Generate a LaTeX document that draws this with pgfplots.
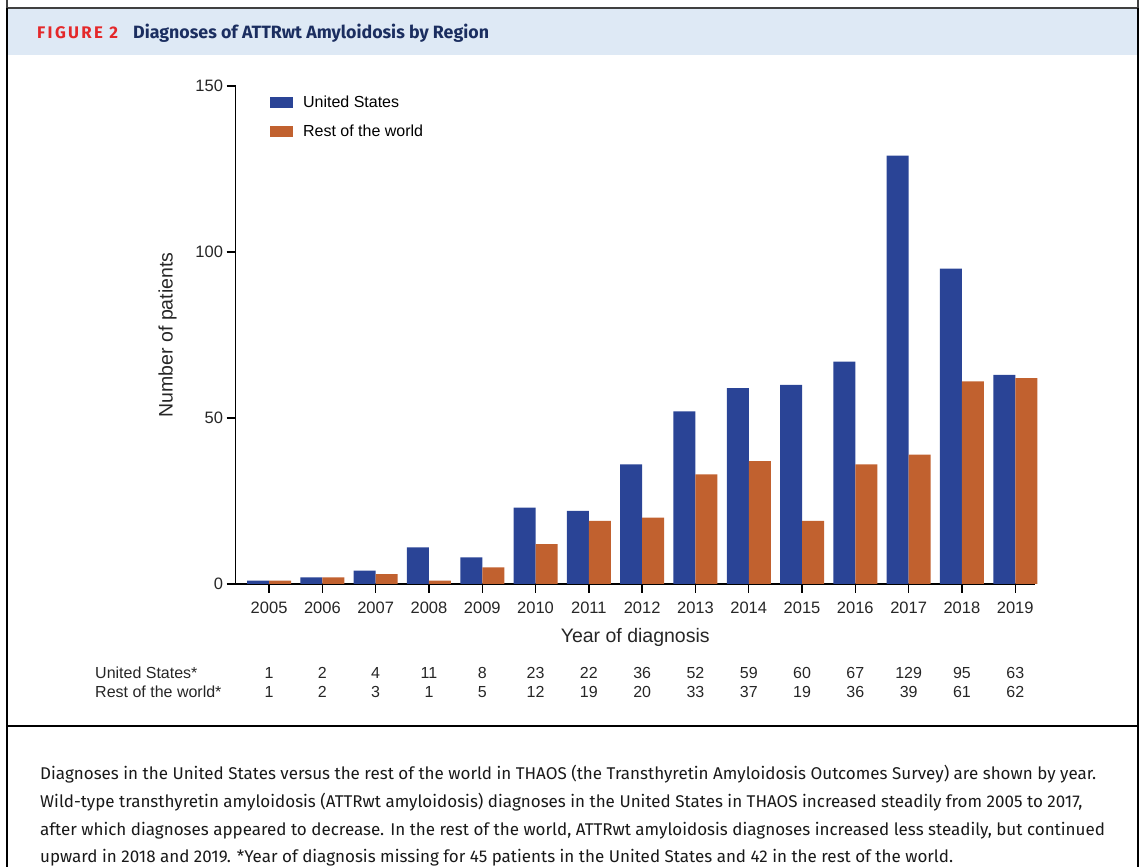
\documentclass[border=0pt]{standalone}
\usepackage{pgfplots}
\pgfplotsset{compat=1.18}
\usepackage{pgfplotstable}
\usepackage{fontspec}
\setmainfont{Liberation Sans}
\newfontfamily\capfont{Fira Sans}
\newfontfamily\headfont{Fira Sans}[LetterSpace=14]
\definecolor{usblue}{RGB}{42,68,150}
\definecolor{roworange}{RGB}{193,97,47}
\definecolor{headbg}{RGB}{222,233,245}
\definecolor{figred}{RGB}{228,40,42}
\definecolor{navy}{RGB}{27,46,96}

\pgfplotstableread{
year us row
2005 1 1
2006 2 2
2007 4 3
2008 11 1
2009 8 5
2010 23 12
2011 22 19
2012 36 20
2013 52 33
2014 59 37
2015 60 19
2016 67 36
2017 129 39
2018 95 61
2019 63 62
}\data

\begin{document}
\begin{tikzpicture}
\path[use as bounding box] (0pt,0pt) rectangle (1142pt,867pt);
% header
\fill[headbg] (8pt,812pt) rectangle (1137pt,858pt);
\draw[line width=2pt, black!75] (7pt,867pt) -- (7pt,859pt) -- (1138pt,859pt) -- (1138pt,867pt);
\draw[line width=2pt, black] (7pt,859pt) -- (7pt,0pt);
\draw[line width=2pt, black] (1138pt,859pt) -- (1138pt,0pt);
\draw[line width=2.6pt, black] (7pt,141pt) -- (1138pt,141pt);
\node[anchor=base west, inner sep=0pt, text=figred] at (37pt,828pt) {\headfont\fontsize{16.8}{19}\selectfont\bfseries FIGURE 2};
\node[anchor=base west, inner sep=0pt, text=navy] at (133pt,828pt) {\capfont\fontsize{17.8}{20}\selectfont\bfseries Diagnoses of ATTRwt Amyloidosis by Region};

\begin{axis}[
  at={(235.5pt,283pt)}, anchor=south west,
  x=53.3pt, y=3.32pt,
  xmin=2004.37, xmax=2019.37, ymin=0, ymax=150,
  axis x line*=bottom, axis y line*=left,
  axis line style={line width=1.4pt, black},
  every tick/.style={line width=1.4pt, black},
  tick align=outside, major tick length=9pt,
  xtick={2005,...,2019}, ytick={0,50,100,150},
  xticklabel style={/pgf/number format/1000 sep={}, yshift=-5pt},
  /pgf/number format/assume math mode=true,
  ticklabel style={font=\fontsize{16.5}{19}\selectfont, text=black!85},
  xlabel={Year of diagnosis}, ylabel={Number of patients},
  label style={font=\fontsize{19.5}{22}\selectfont, text=black!85},
  xlabel style={at={(axis description cs:0.5,-0.108)}, anchor=center},
  ylabel style={at={(axis description cs:-0.085,0.5)}, anchor=center, rotate=0},
  clip=false,
  legend style={draw=none, fill=none, at={(axis description cs:0.043,0.985)}, anchor=north west,
    font=\fontsize{16}{19}\selectfont, row sep=12pt, inner sep=0pt},
  legend cell align=left,
  legend image code/.code={\fill[#1,draw=none] (0pt,-5.5pt) rectangle (23pt,5.5pt); \path (31pt,0pt);},
]
\addplot[ybar, bar width=22pt, bar shift=-11pt, fill=usblue, draw=none] table[x=year,y=us]{\data};
\addlegendentry{United States}
\addplot[ybar, bar width=22pt, bar shift=11pt, fill=roworange, draw=none] table[x=year,y=row]{\data};
\addlegendentry{Rest of the world}
\addplot[draw=none, mark=none, forget plot, nodes near coords, point meta=explicit symbolic,
  nodes near coords style={anchor=center, font=\fontsize{16}{19}\selectfont, text=black!85}]
  table[x=year, y expr=-26.8, meta=us]{\data};
\addplot[draw=none, mark=none, forget plot, nodes near coords, point meta=explicit symbolic,
  nodes near coords style={anchor=center, font=\fontsize{16}{19}\selectfont, text=black!85}]
  table[x=year, y expr=-32.6, meta=row]{\data};
\end{axis}

\node[anchor=west, inner sep=0pt, text=black!85, font=\fontsize{16}{19}\selectfont] at (95pt,194pt) {United States*};
\node[anchor=west, inner sep=0pt, text=black!85, font=\fontsize{16}{19}\selectfont] at (95pt,175pt) {Rest of the world*};

% caption
\begin{scope}[every node/.style={anchor=base west, inner sep=0pt, text=black!90, font=\capfont\fontsize{17}{20}\selectfont}]
\node at (40pt,88pt) {Diagnoses in the United States versus the rest of the world in THAOS (the Transthyretin Amyloidosis Outcomes Survey) are shown by year.};
\node at (40pt,60pt) {Wild-type transthyretin amyloidosis (ATTRwt amyloidosis) diagnoses in the United States in THAOS increased steadily from 2005 to 2017,};
\node at (40pt,32pt) {after which diagnoses appeared to decrease. In the rest of the world, ATTRwt amyloidosis diagnoses increased less steadily, but continued};
\node at (40pt,5pt) {upward in 2018 and 2019. *Year of diagnosis missing for 45 patients in the United States and 42 in the rest of the world.};
\end{scope}
\end{tikzpicture}
\end{document}
